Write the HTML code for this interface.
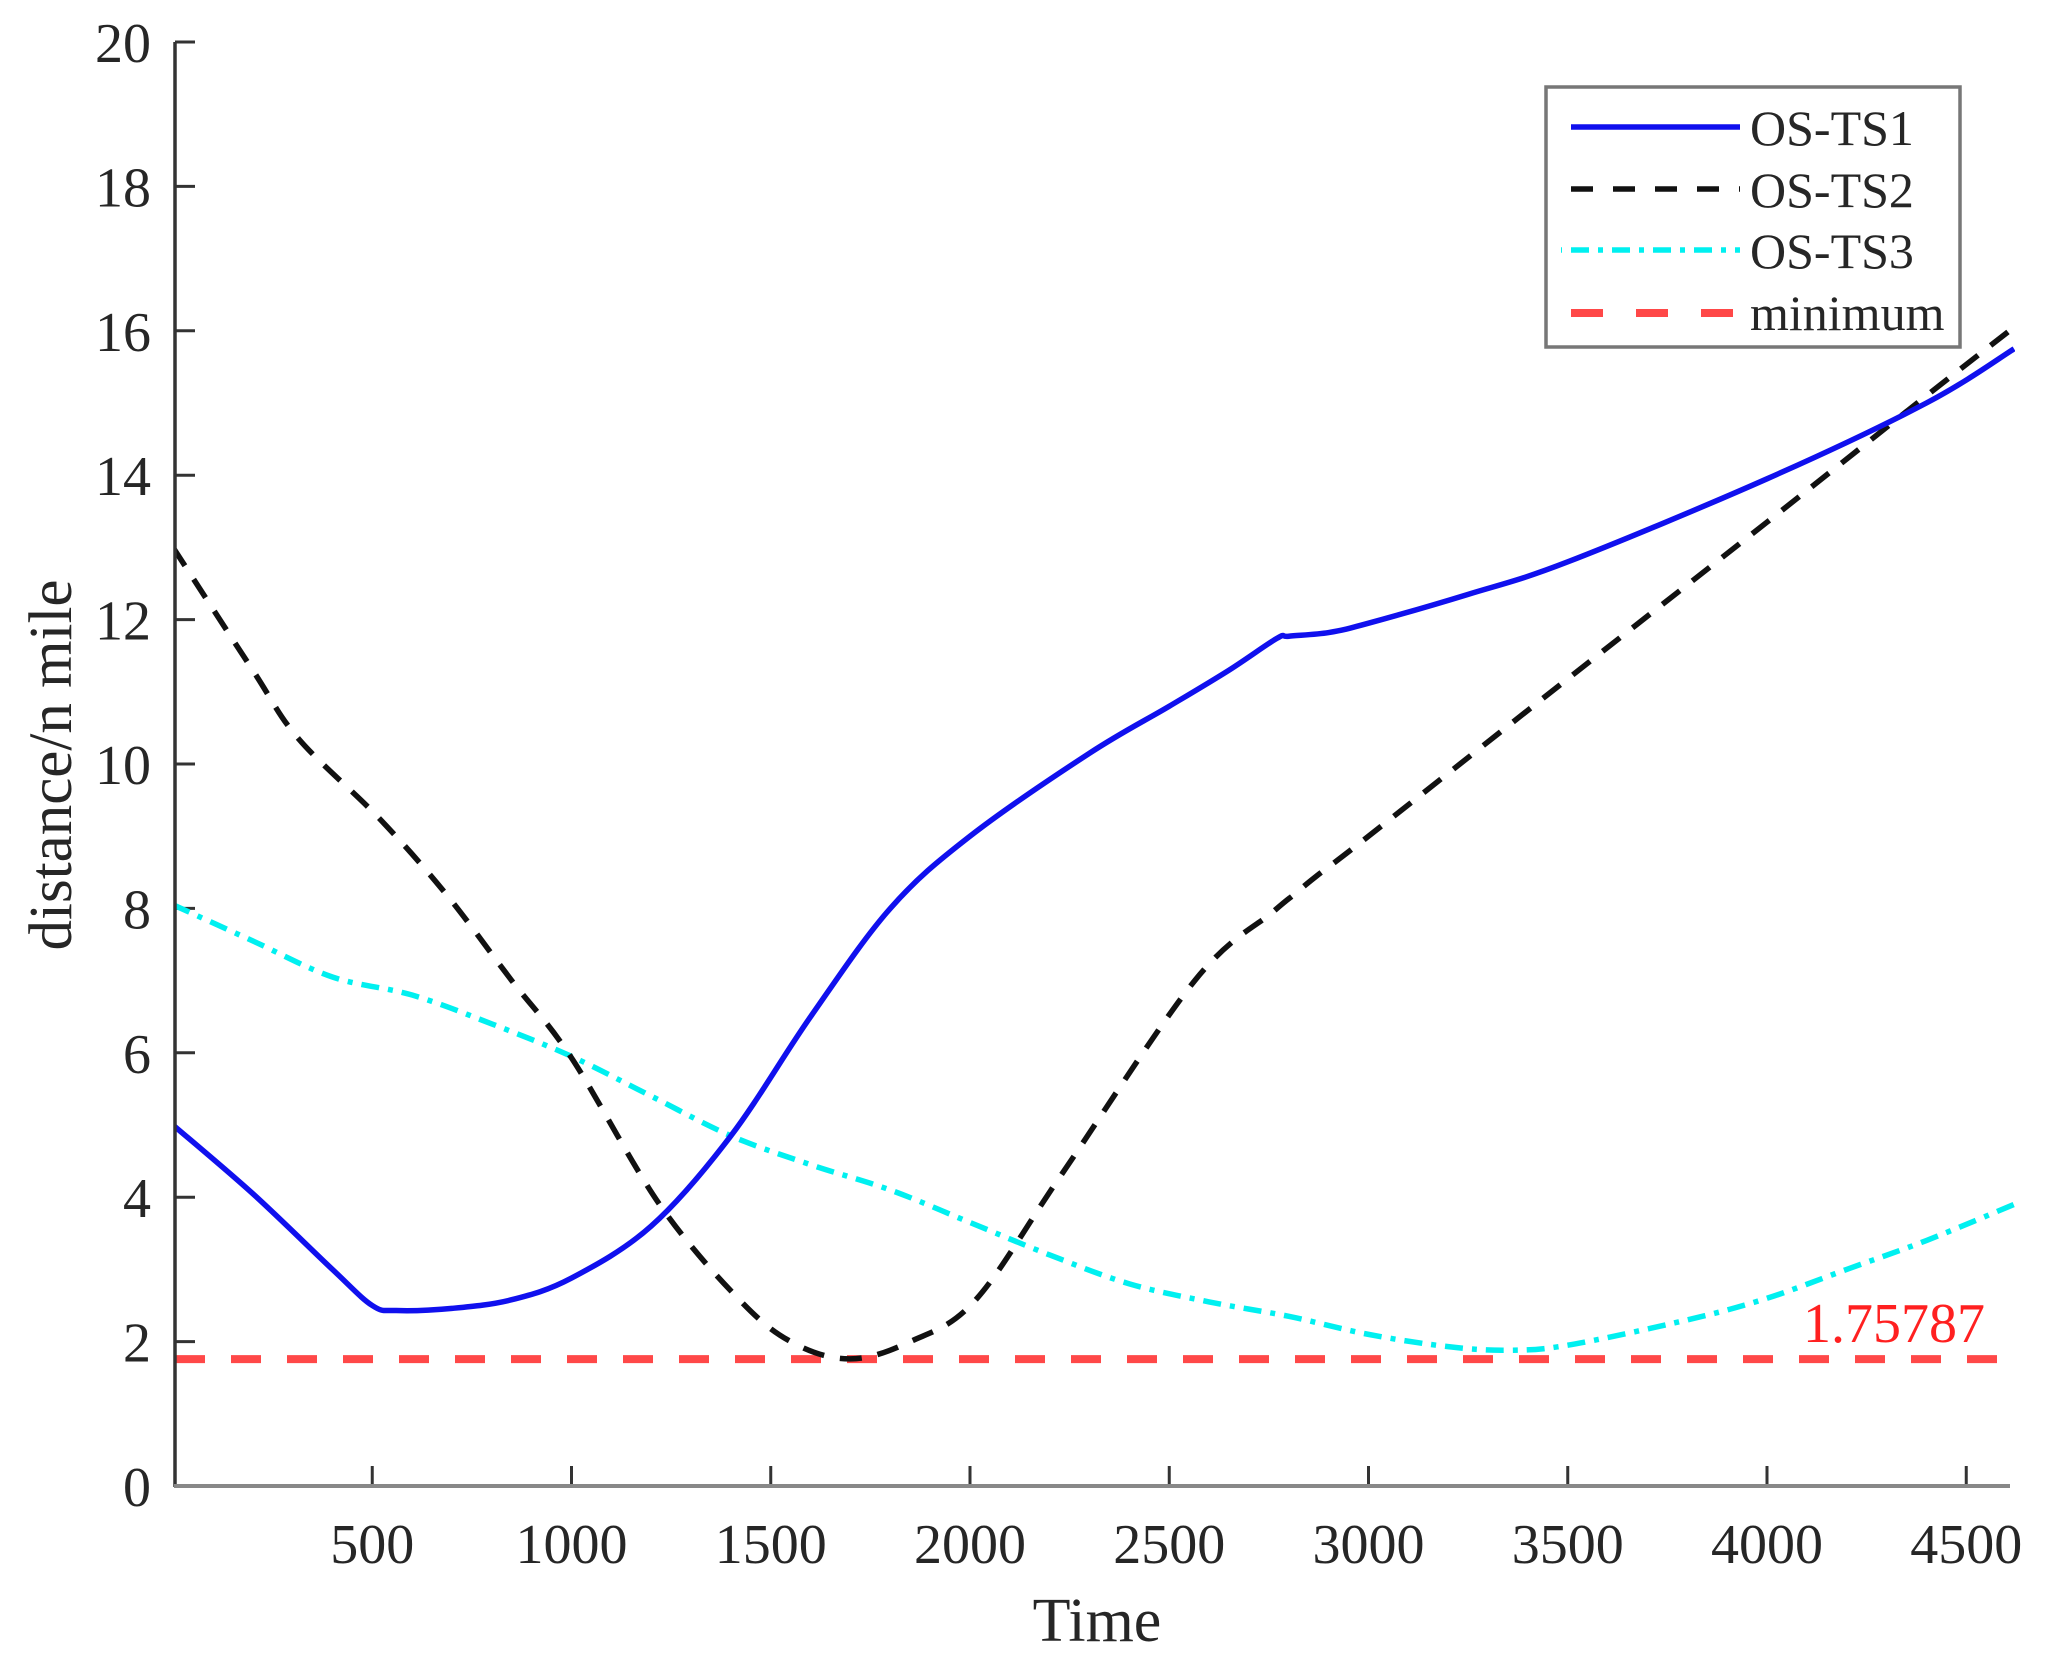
<!DOCTYPE html>
<html><head><meta charset="utf-8"><style>
html,body{margin:0;padding:0;background:#fff;}
svg{display:block;}
text{font-family:"Liberation Serif",serif;fill:#262626;}
</style></head><body>
<svg id="s" width="2061" height="1653" viewBox="0 0 2061 1653" xmlns="http://www.w3.org/2000/svg">
<defs><clipPath id="c"><rect x="175" y="30" width="1840" height="1458"/></clipPath></defs>
<g id="ticks" stroke="#333" stroke-width="3"></g>
<g id="labels" font-size="56"></g>
<g clip-path="url(#c)" fill="none">
<path id="red" stroke="#ff4848" stroke-width="8" stroke-dasharray="30 26"/>
<path id="cy" stroke="#00f0f0" stroke-width="5.5" stroke-dasharray="18 9 5 9"/>
<path id="bk" stroke="#111" stroke-width="5.5" stroke-dasharray="22 16"/>
<path id="bl" stroke="#1010ee" stroke-width="5.5"/>
</g>
<line x1="175" y1="42" x2="175" y2="1487" stroke="#333" stroke-width="3.5"/>
<line x1="174" y1="1486" x2="2010" y2="1486" stroke="#888" stroke-width="4"/>
<text x="1985" y="1342" font-size="56" text-anchor="end" style="fill:#ff2020">1.75787</text>
<text x="1097" y="1641" font-size="62" text-anchor="middle">Time</text>
<text transform="translate(71,765) rotate(-90)" font-size="61" text-anchor="middle">distance/n mile</text>
<rect x="1546" y="87" width="414" height="260" fill="#fff" stroke="#777" stroke-width="3.5"/>
<line x1="1571" y1="127" x2="1740" y2="127" stroke="#1010ee" stroke-width="5.5"/>
<line x1="1561" y1="189" x2="1740" y2="189" stroke="#111" stroke-width="5.5" stroke-dasharray="22 20" stroke-dashoffset="-10"/>
<line x1="1561" y1="250" x2="1740" y2="250" stroke="#00f0f0" stroke-width="5.5" stroke-dasharray="18 9 5 9" stroke-dashoffset="-10"/>
<line x1="1561" y1="313" x2="1740" y2="313" stroke="#ff4848" stroke-width="8" stroke-dasharray="32 33" stroke-dashoffset="-10"/>
<g font-size="50">
<text x="1750" y="145">OS-TS1</text>
<text x="1750" y="207">OS-TS2</text>
<text x="1750" y="268">OS-TS3</text>
<text x="1750" y="330">minimum</text>
</g>
</svg>
<script>
var X=function(t){return 173+t*0.3985},Y=function(v){return 1486-v*72.2};
function path(d){var p=d.map(function(a){return [X(a[0]),Y(a[1])]});var s="M"+p[0][0]+","+p[0][1];
for(var i=0;i<p.length-1;i++){var p0=p[i-1]||p[i],p1=p[i],p2=p[i+1],p3=p[i+2]||p2;
s+=" C"+(p1[0]+(p2[0]-p0[0])/6)+","+(p1[1]+(p2[1]-p0[1])/6)+" "+(p2[0]-(p3[0]-p1[0])/6)+","+(p2[1]-(p3[1]-p1[1])/6)+" "+p2[0]+","+p2[1];}return s;}
document.getElementById("bl").setAttribute("d",path([[0,5],[200,4.05],[400,3.0],[500,2.5],[560,2.43],[700,2.46],[850,2.58],[1000,2.88],[1200,3.6],[1400,4.85],[1600,6.5],[1800,8.0],[2000,9.0],[2300,10.15],[2500,10.8],[2650,11.3],[2770,11.74],[2800,11.77],[2900,11.82],[3000,11.95],[3250,12.35],[3500,12.8],[4000,13.95],[4400,15.0],[4620,15.75]]));
document.getElementById("bk").setAttribute("d",path([[0,13.0],[200,11.3],[315,10.35],[517,9.25],[685,8.2],[850,7.0],[1000,5.93],[1221,3.9],[1423,2.57],[1557,1.98],[1700,1.76],[1850,2.0],[2013,2.57],[2228,4.3],[2564,7.0],[2760,7.95],[2815,8.2],[2870,8.45],[3000,9.0],[3500,11.18],[4000,13.35],[4400,15.1],[4620,16.05]]));
document.getElementById("cy").setAttribute("d",path([[0,8.05],[200,7.55],[400,7.05],[600,6.8],[800,6.4],[1000,5.95],[1200,5.4],[1400,4.85],[1600,4.45],[1800,4.1],[2000,3.65],[2200,3.2],[2400,2.8],[2600,2.55],[2800,2.35],[3000,2.1],[3200,1.93],[3350,1.88],[3500,1.95],[3800,2.3],[4000,2.6],[4200,3.0],[4400,3.4],[4620,3.9]]));
document.getElementById("red").setAttribute("d","M175,"+Y(1.75787)+" L2010,"+Y(1.75787));
var tk=document.getElementById("ticks"),lb=document.getElementById("labels"),h="";
for(var v=2;v<=20;v+=2){var y=Y(v);h+='<line x1="175" y1="'+y+'" x2="195" y2="'+y+'"/>';}
for(var t=500;t<=4500;t+=500){var x=X(t);h+='<line x1="'+x+'" y1="1486" x2="'+x+'" y2="1466"/>';}
tk.innerHTML=h;var g="";
for(var v=0;v<=20;v+=2){g+='<text x="151" y="'+(Y(v)+20)+'" text-anchor="end">'+v+'</text>';}
for(var t=500;t<=4500;t+=500){g+='<text x="'+X(t)+'" y="1563" text-anchor="middle">'+t+'</text>';}
lb.innerHTML=g;
</script>
</body></html>
